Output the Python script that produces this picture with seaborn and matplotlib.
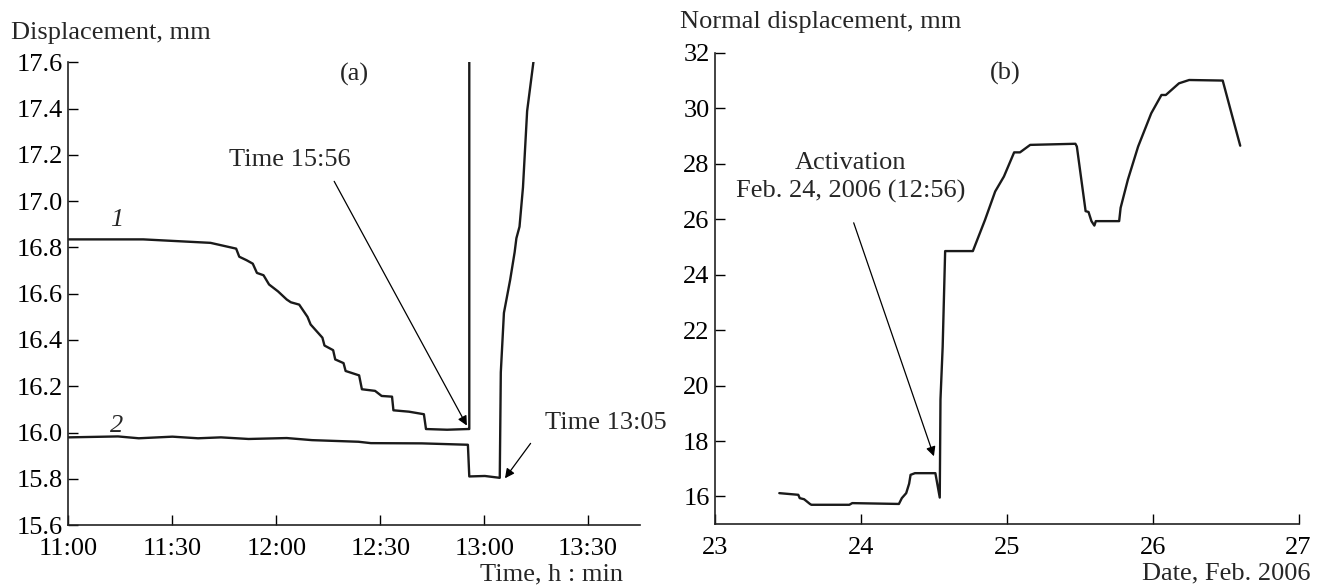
"""
plot.py
Displacement records: (a) time series around 13:00, (b) normal displacement Feb. 2006

Run: python plot.py
"""

import matplotlib
matplotlib.use("Agg")
import matplotlib.pyplot as plt
import pandas as pd
import seaborn as sns

# ── panel (a): minutes after 11:00 ──────────────────────────────────────────
curve1_min = [0, 21.6, 41, 48.4, 49.3, 51.4, 53.2, 54.4, 56.3, 57.9, 60.5, 63,
              64.2, 66.6, 69, 69.9, 73.3, 73.9, 76.4, 77, 79.4, 80, 83.9, 84.7,
              88.5, 90.4, 93.4, 93.8, 98.3, 102.6, 103.2, 109.3, 115.3, 115.7, 115.7]
curve1_val = [16.835, 16.835, 16.82, 16.795, 16.76, 16.745, 16.73, 16.69, 16.68,
              16.64, 16.61, 16.575, 16.563, 16.553, 16.50, 16.467, 16.41, 16.376,
              16.356, 16.316, 16.30, 16.266, 16.247, 16.187, 16.18, 16.158, 16.155,
              16.096, 16.09, 16.079, 16.015, 16.012, 16.015, 16.015, 18.5]

curve2_min = [0, 14.3, 20.3, 30, 37.4, 44, 52, 63, 70.3, 83.7, 87.3, 102, 115.3,
              115.7, 120.2, 124.5, 124.8, 125.7, 127.5, 128.8, 129.3, 130.2, 131.2,
              132.4, 133, 134.2, 135]
curve2_val = [15.979, 15.983, 15.975, 15.982, 15.975, 15.979, 15.972, 15.976,
              15.967, 15.96, 15.954, 15.953, 15.947, 15.81, 15.812, 15.804, 16.26,
              16.517, 16.66, 16.78, 16.84, 16.89, 17.06, 17.39, 17.46, 17.6, 17.75]

a_xticks = [0, 30, 60, 90, 120, 150]
a_xticklabels = ["11:00", "11:30", "12:00", "12:30", "13:00", "13:30"]
a_yticks = [15.6, 15.8, 16.0, 16.2, 16.4, 16.6, 16.8, 17.0, 17.2, 17.4, 17.6]

# ── panel (b): day of Feb. 2006 ─────────────────────────────────────────────
b_day = [23.44, 23.57, 23.58, 23.61, 23.65, 23.66, 23.92, 23.94, 24.26, 24.28,
         24.31, 24.33, 24.34, 24.37, 24.51, 24.54, 24.545, 24.56, 24.577, 24.767,
         24.85, 24.92, 24.98, 25.05, 25.09, 25.16, 25.47, 25.48, 25.54, 25.56,
         25.58, 25.60, 25.61, 25.77, 25.78, 25.83, 25.90, 25.99, 26.06, 26.09,
         26.18, 26.25, 26.48, 26.54, 26.60]
b_val = [16.12, 16.06, 15.94, 15.90, 15.73, 15.70, 15.70, 15.76, 15.73, 15.94,
         16.12, 16.46, 16.78, 16.84, 16.84, 15.96, 19.5, 21.4, 24.85, 24.85,
         25.97, 27.0, 27.54, 28.41, 28.41, 28.68, 28.72, 28.62, 26.29, 26.26,
         25.93, 25.77, 25.93, 25.93, 26.41, 27.43, 28.62, 29.82, 30.48, 30.48,
         30.9, 31.02, 31.0, 29.82, 28.65]

b_xticks = [23, 24, 25, 26, 27]
b_yticks = [16, 18, 20, 22, 24, 26, 28, 30, 32]

FONT = 19

sns.set_theme(style="ticks")
plt.rcParams["font.family"] = ["Liberation Serif", "DejaVu Serif"]

fig = plt.figure(figsize=(13.17, 5.87), dpi=100)
ax_a = fig.add_axes([0.052, 0.1056, 0.434, 0.788])
ax_b = fig.add_axes([0.543, 0.107, 0.443, 0.803])

df1 = pd.DataFrame({"t": curve1_min, "v": curve1_val})
df2 = pd.DataFrame({"t": curve2_min, "v": curve2_val})
dfb = pd.DataFrame({"d": b_day, "v": b_val})

for df in (df1, df2):
    sns.lineplot(data=df, x="t", y="v", ax=ax_a, color="#1a1a1a", lw=1.7,
                 sort=False, estimator=None)
sns.lineplot(data=dfb, x="d", y="v", ax=ax_b, color="#1a1a1a", lw=1.7,
             sort=False, estimator=None)

arrow = dict(arrowstyle="-|>", color="black", lw=0.9, mutation_scale=14,
             shrinkA=0, shrinkB=0)

# panel (a)
ax_a.set_xlim(0, 165)
ax_a.set_ylim(15.6, 17.6)
ax_a.set_xticks(a_xticks)
ax_a.set_xticklabels(a_xticklabels)
ax_a.set_yticks(a_yticks)
ax_a.set_yticklabels([f"{v:.1f}" for v in a_yticks])
ax_a.text(82.5, 17.55, "(a)", ha="center", va="center", fontsize=FONT)
ax_a.text(64, 17.18, "Time 15:56", ha="center", va="center", fontsize=FONT)
ax_a.annotate("", xy=(115, 16.03), xytext=(76.7, 17.086), arrowprops=arrow)
ax_a.text(137.5, 16.04, "Time 13:05", ha="left", va="center", fontsize=FONT)
ax_a.annotate("", xy=(126, 15.802), xytext=(133.4, 15.953), arrowprops=arrow)
ax_a.text(14, 16.92, "1", ha="center", va="center", fontsize=FONT, style="italic")
ax_a.text(14, 16.03, "2", ha="center", va="center", fontsize=FONT, style="italic")

# panel (b)
ax_b.set_xlim(23, 27)
ax_b.set_ylim(15, 32)
ax_b.set_xticks(b_xticks)
ax_b.set_yticks(b_yticks)
ax_b.text(24.99, 31.26, "(b)", ha="center", va="center", fontsize=FONT)
ax_b.text(23.93, 27.5, "Activation\nFeb. 24, 2006 (12:56)", ha="center",
          va="center", fontsize=FONT, linespacing=1.3)
ax_b.annotate("", xy=(24.5, 17.45), xytext=(23.95, 25.87), arrowprops=arrow)

for ax in (ax_a, ax_b):
    sns.despine(ax=ax)
    ax.set_xlabel("")
    ax.set_ylabel("")
    ax.tick_params(direction="in", length=7, width=1, labelsize=FONT,
                   colors="black", pad=4)
    ax.tick_params(axis="x", pad=9)
    for s in ("left", "bottom"):
        ax.spines[s].set_linewidth(1.2)
        ax.spines[s].set_color("#222222")

fig.text(0.008, 0.944, "Displacement, mm", ha="left", va="center", fontsize=FONT)
fig.text(0.516, 0.962, "Normal displacement, mm", ha="left", va="center", fontsize=FONT)
fig.text(0.473, 0.022, "Time, h : min", ha="right", va="center", fontsize=FONT)
fig.text(0.995, 0.023, "Date, Feb. 2006", ha="right", va="center", fontsize=FONT)

fig.savefig("out.png", dpi=100)
